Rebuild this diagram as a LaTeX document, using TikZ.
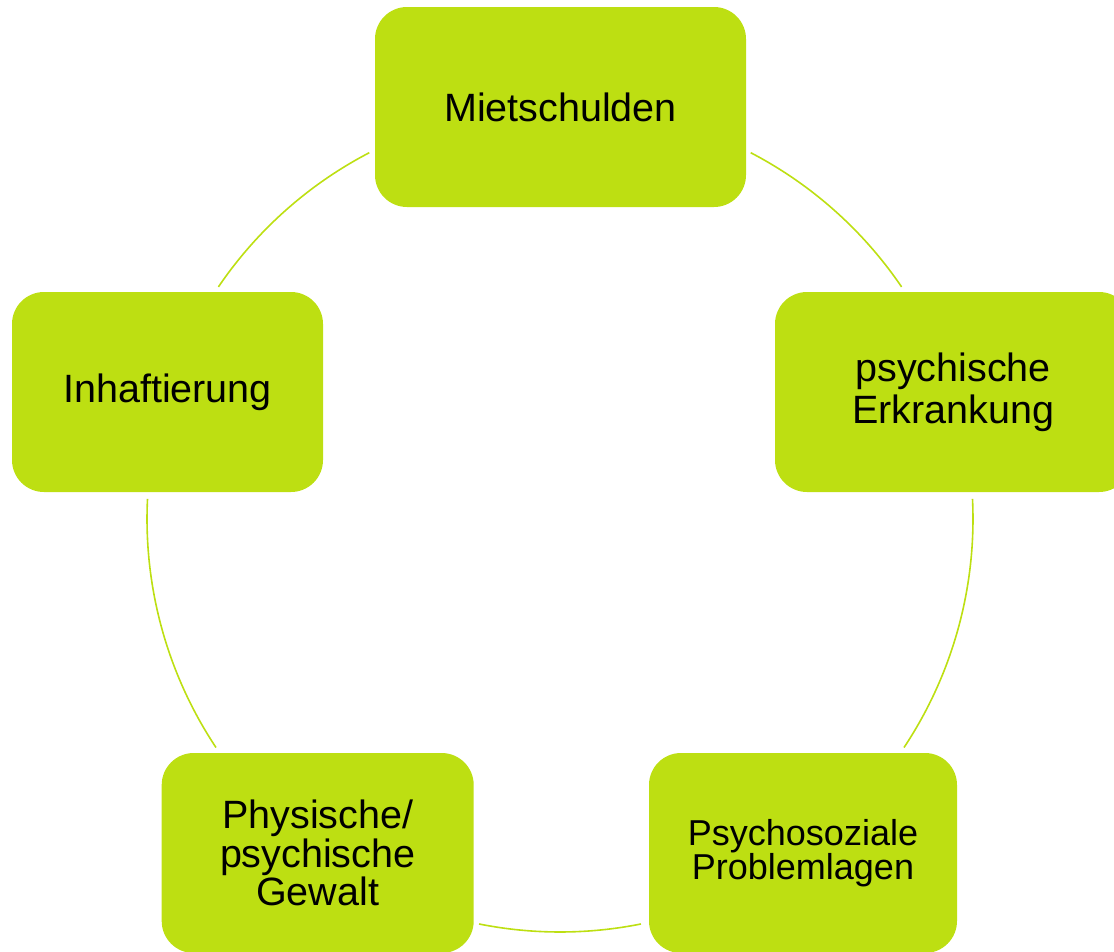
\documentclass[tikz,border=0pt]{standalone}
\usepackage{fontspec}
\setmainfont{Liberation Sans}
\definecolor{lime}{RGB}{189,223,18}
\begin{document}
\begin{tikzpicture}[x=1pt,y=1pt,
  box/.style={fill=lime, rounded corners=32pt, minimum height=200pt, inner sep=0pt, align=center},
  link/.style={draw=lime, line width=1.6pt}]
\clip (0,0) rectangle (1114,-951);
\coordinate (O) at (560,-519);
\node[box, minimum width=371pt, font=\fontsize{39.5}{42}\selectfont] (m) at (560.5,-107) {Mietschulden};
\node[box, minimum width=356pt, font=\fontsize{39.5}{42.3}\selectfont] (pe) at (953,-392) {psychische\\Erkrankung};
\node[box, minimum width=308pt, font=\fontsize{36}{32.7}\selectfont] (pp) at (803,-853) {Psychosoziale\\Problemlagen};
\node[box, minimum width=312pt, font=\fontsize{39.5}{38.3}\selectfont] (pg) at (317.7,-853) {Physische/\\psychische\\Gewalt};
\node[box, minimum width=311pt, font=\fontsize{39.5}{42}\selectfont] (ih) at (167.5,-392) {Inhaftierung};
\draw[link] (O) ++(62.5:413) arc[start angle=62.5, end angle=34.2, radius=413];
\draw[link] (O) ++(2.8:413) arc[start angle=2.8, end angle=-33.6, radius=413];
\draw[link] (O) ++(-78.7:413) arc[start angle=-78.7, end angle=-101.3, radius=413];
\draw[link] (O) ++(213.6:413) arc[start angle=213.6, end angle=177.2, radius=413];
\draw[link] (O) ++(145.8:413) arc[start angle=145.8, end angle=117.5, radius=413];
\end{tikzpicture}
\end{document}
